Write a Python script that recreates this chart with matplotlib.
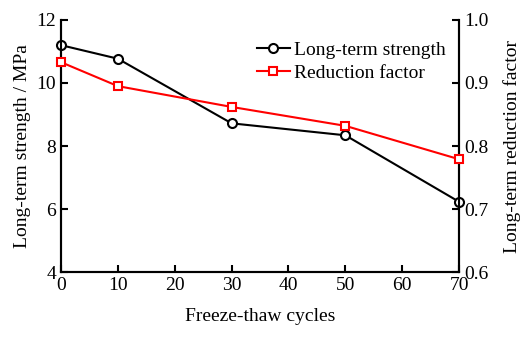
import matplotlib.pyplot as plt

plt.rcParams['font.family'] = ['Liberation Serif', 'DejaVu Serif']
plt.rcParams['font.size'] = 14

cycles = [0, 10, 30, 50, 70]
strength = [11.2, 10.77, 8.72, 8.34, 6.23]
reduction = [0.933, 0.895, 0.862, 0.832, 0.779]

fig = plt.figure(figsize=(5.28, 3.38), dpi=100)
ax = fig.add_axes([0.1155, 0.195, 0.754, 0.746])
ax2 = ax.twinx()

l1, = ax.plot(cycles, strength, color='black', marker='o', markersize=6.5,
              markerfacecolor='white', markeredgewidth=1.5, linewidth=1.5,
              label='Long-term strength', clip_on=False, zorder=5)
l2, = ax2.plot(cycles, reduction, color='red', marker='s', markersize=6,
               markerfacecolor='white', markeredgewidth=1.5, linewidth=1.5,
               label='Reduction factor', clip_on=False, zorder=5)

ax.set_xlim(0, 70)
ax.set_ylim(4, 12)
ax2.set_ylim(0.6, 1.0)
ax.set_xticks(range(0, 71, 10))
ax.set_yticks(range(4, 13, 2))
ax2.set_yticks([0.6, 0.7, 0.8, 0.9, 1.0])

for a in (ax, ax2):
    a.spines['top'].set_visible(False)
    for s in a.spines.values():
        s.set_linewidth(1.5)
    a.tick_params(direction='in', width=1.5, length=5)

ax.set_xlabel('Freeze-thaw cycles', labelpad=10)
ax.set_ylabel('Long-term strength / MPa')
ax2.set_ylabel('Long-term reduction factor', labelpad=11)

ax.legend(handles=[l1, l2], loc='upper right', bbox_to_anchor=(1.0, 0.97),
          frameon=False, handlelength=1.7, handletextpad=0.2,
          labelspacing=0.3, borderpad=0.2)

fig.savefig('out.png', dpi=100)
